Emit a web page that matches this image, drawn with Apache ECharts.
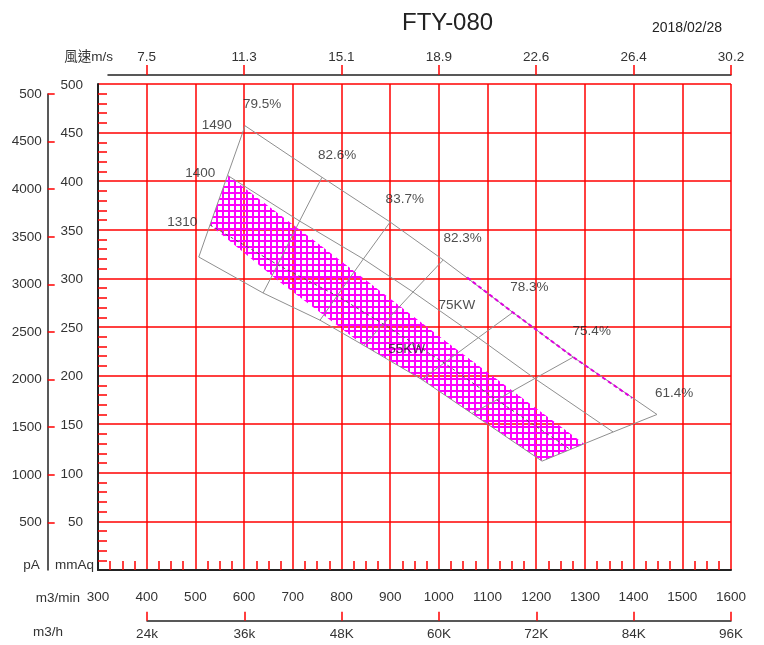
<!DOCTYPE html>
<html><head><meta charset="utf-8">
<script src="https://cdn.jsdelivr.net/npm/echarts@6/dist/echarts.min.js"></script>
<style>html,body{margin:0;padding:0;background:#fff}#c{width:764px;height:645px}</style>
</head><body><div id="c"></div>
<script>
// ---- tick labels ----
const speedFlows = [400, 600, 800, 1000, 1200, 1400, 1600];
const speedLabels = ['7.5', '11.3', '15.1', '18.9', '22.6', '26.4', '30.2'];
const hourFlows = [400, 600, 800, 1000, 1200, 1400, 1600];
const hourLabels = ['24k', '36k', '48K', '60K', '72K', '84K', '96K'];
const paTicks = [500, 1000, 1500, 2000, 2500, 3000, 3500, 4000, 4500, 5000];
const paLabels = ['500', '1000', '1500', '2000', '2500', '3000', '3500', '4000', '4500', '500'];

// ---- fan curves (flow m3/min, pressure mmAq) ----
const curve1490Q = [602, 760, 900, 1009, 1152, 1276, 1448];
const curve1490P = [457, 404, 358, 319, 265, 219, 160];
const curve1400Q = [566, 714, 845, 947, 1081, 1197, 1358];
const curve1400P = [406, 359, 320, 286, 239, 197, 142];
const curve1310Q = [530, 669, 791, 886, 1011, 1119, 1270];
const curve1310P = [355, 314, 282, 253, 213, 175, 124];
const curveLowQ = [507, 639, 756, 846, 965, 1068, 1212];
const curveLowP = [322, 285, 257, 231, 196, 161, 112];

// ---- hatched operating band ----
const bandUpperQ = [566, 762, 1023, 1298];
const bandUpperP = [406, 332, 232, 130];
const bandLowerQ = [530, 674, 846, 965, 1068, 1212];
const bandLowerP = [355, 296, 231, 196, 161, 112];

// ---- magenta dashed segment ----
const dashQ = [1058, 1152, 1276, 1397];
const dashP = [301, 265, 219, 177];

// ---- annotations ----
const annoText = ['1490', '1400', '1310', '79.5%', '82.6%', '83.7%', '82.3%', '78.3%', '75.4%', '61.4%', '75KW', '55KW'];
const annoQ = [544, 510, 473, 637, 791, 930, 1049, 1186, 1314, 1483, 1037, 934];
const annoP = [458, 408, 358, 479, 427, 381, 341, 291, 246, 182, 272, 227];

const FONT = '"Liberation Sans", Arial, "Noto Sans CJK TC", sans-serif';
const RED = '#ff0000';
const GRAY = '#8f8f8f';

// hatch pattern
const pat = document.createElement('canvas');
pat.width = 6; pat.height = 6;
const pctx = pat.getContext('2d');
pctx.fillStyle = '#ff00ff';
pctx.fillRect(0, 0, 6, 2);
pctx.fillRect(0, 0, 2, 6);

function zip(q, p) { return q.map((v, i) => [v, p[i]]); }

const series = [];
series.push({
  type: 'custom', xAxisIndex: 0, yAxisIndex: 0, silent: true, z: 1,
  data: [[bandUpperQ[0], bandUpperP[0]]],
  renderItem: function (params, api) {
    const pts = [];
    for (let i = 0; i < bandUpperQ.length; i++) pts.push(api.coord([bandUpperQ[i], bandUpperP[i]]));
    for (let i = bandLowerQ.length - 1; i >= 0; i--) pts.push(api.coord([bandLowerQ[i], bandLowerP[i]]));
    return { type: 'polygon', shape: { points: pts }, style: { fill: { image: pat, repeat: 'repeat' }, stroke: null } };
  }
});
function lineSeries(data, color, type, width, z) {
  return { type: 'line', xAxisIndex: 0, yAxisIndex: 0, data: data, symbol: 'none', silent: true, z: z || 3,
    lineStyle: { color: color, width: width || 1, type: type || 'solid' } };
}
series.push(lineSeries(zip(curve1490Q, curve1490P), GRAY));
series.push(lineSeries(zip(curve1400Q, curve1400P), GRAY));
series.push(lineSeries(zip(curveLowQ, curveLowP), GRAY));
series.push(lineSeries(zip(curve1310Q, curve1310P), '#555', [3, 3], 1));
for (let i = 0; i < curve1490Q.length; i++) {
  series.push(lineSeries([[curve1490Q[i], curve1490P[i]], [curve1400Q[i], curve1400P[i]],
    [curve1310Q[i], curve1310P[i]], [curveLowQ[i], curveLowP[i]]], GRAY));
}
series.push(lineSeries(zip(dashQ, dashP), '#e000e0', [4, 3], 2, 4));
series.push({
  type: 'scatter', xAxisIndex: 0, yAxisIndex: 0, symbolSize: 1, silent: true, z: 5,
  itemStyle: { color: 'rgba(0,0,0,0)' },
  data: annoText.map((t, i) => ({ name: t, value: [annoQ[i], annoP[i]] })),
  label: { show: true, position: 'inside', formatter: '{b}', fontSize: 13.5, color: '#222', fontFamily: FONT }
});

const labelStyle = { fontSize: 13.5, color: '#333', fontFamily: FONT };

const option = {
  animation: false,
  backgroundColor: '#fff',
  title: [
    { text: 'FTY-080', left: 402, top: 11, padding: 0, textStyle: { fontSize: 24, fontWeight: 'normal', color: '#222', fontFamily: FONT } },
    { text: '2018/02/28', left: 652, top: 21, padding: 0, textStyle: { fontSize: 14, fontWeight: 'normal', color: '#222', fontFamily: FONT } }
  ],
  grid: [
    { left: 98, right: 33, top: 84, bottom: 75 },
    { left: 98, right: 33, top: 94, bottom: 75 },
    { left: 108, right: 33, top: 75, height: 1 },
    { left: 147, right: 33, top: 610, height: 10.7 }
  ],
  xAxis: [
    { gridIndex: 0, type: 'value', min: 300, max: 1600, interval: 100, position: 'bottom',
      axisLine: { show: true, onZero: false, lineStyle: { color: '#222', width: 2 } },
      axisTick: { show: false, inside: true },
      minorTick: { show: true, splitNumber: 4, length: 9, lineStyle: { color: RED, width: 1.5 } },
      splitLine: { show: true, lineStyle: { color: RED, width: 1.5 } },
      axisLabel: Object.assign({ margin: 21, showMinLabel: true, showMaxLabel: true, formatter: v => String(v) }, labelStyle),
      name: 'm3/min', nameLocation: 'start', nameGap: 18, nameMoveOverlap: false,
      nameTextStyle: Object.assign({ verticalAlign: 'top', lineHeight: 56 }, labelStyle) },
    { gridIndex: 2, type: 'value', min: 320.5, max: 1600, position: 'top',
      axisLine: { show: true, onZero: false, lineStyle: { color: '#222', width: 1.5 } },
      axisTick: { show: true, length: 10, customValues: speedFlows, lineStyle: { color: RED, width: 1.5 } },
      splitLine: { show: false },
      axisLabel: Object.assign({ margin: 11, customValues: speedFlows,
        formatter: v => { const k = speedFlows.indexOf(v); return k >= 0 ? speedLabels[k] : ''; } }, labelStyle),
      name: '風速m/s', nameLocation: 'start', nameGap: -5, nameMoveOverlap: false,
      nameTextStyle: Object.assign({ verticalAlign: 'bottom', lineHeight: 35 }, labelStyle) },
    { gridIndex: 3, type: 'value', min: 400, max: 1600, interval: 200, position: 'bottom',
      axisLine: { show: true, onZero: false, lineStyle: { color: '#222', width: 1.5 } },
      axisTick: { show: true, inside: true, length: 9, lineStyle: { color: RED, width: 1.5 } },
      splitLine: { show: false },
      axisLabel: Object.assign({ margin: 7, showMinLabel: true, showMaxLabel: true,
        formatter: v => { const k = hourFlows.indexOf(v); return k >= 0 ? hourLabels[k] : ''; } }, labelStyle),
      name: 'm3/h', nameLocation: 'start', nameGap: 84, nameMoveOverlap: false,
      nameTextStyle: Object.assign({ verticalAlign: 'top', lineHeight: 24 }, labelStyle) },
    { gridIndex: 1, type: 'value', show: false, min: 0, max: 1 }
  ],
  yAxis: [
    { gridIndex: 0, type: 'value', min: 0, max: 500, interval: 50, position: 'left',
      axisLine: { show: true, onZero: false, lineStyle: { color: '#222', width: 2 } },
      axisTick: { show: false, inside: true },
      minorTick: { show: true, splitNumber: 5, length: 9, lineStyle: { color: RED, width: 1.5 } },
      splitLine: { show: true, lineStyle: { color: RED, width: 1.5 } },
      axisLabel: Object.assign({ margin: 4, showMinLabel: true, showMaxLabel: true,
        formatter: v => v === 0 ? '{u|mmAq}' : '{n|' + v + '}',
        rich: { n: Object.assign({ padding: [2, 11, 0, 0] }, labelStyle), u: Object.assign({ padding: [0, 0, 10, 0] }, labelStyle) } }, labelStyle) },
    { gridIndex: 1, type: 'value', min: 0, max: 5000, interval: 500, position: 'left', offset: 50.3,
      axisLine: { show: true, onZero: false, lineStyle: { color: '#222', width: 1.5 } },
      axisTick: { show: true, inside: true, length: 7, customValues: paTicks, lineStyle: { color: RED, width: 1.5 } },
      splitLine: { show: false },
      axisLabel: Object.assign({ margin: 6, showMinLabel: true, showMaxLabel: true,
        formatter: v => { if (v === 0) return '{u|pA}'; const k = paTicks.indexOf(v); return '{n|' + (k >= 0 ? paLabels[k] : '') + '}'; },
        rich: { n: Object.assign({}, labelStyle), u: Object.assign({ padding: [0, 2, 10, 0] }, labelStyle) } }, labelStyle) },
    { gridIndex: 2, type: 'value', show: false, min: 0, max: 1 },
    { gridIndex: 3, type: 'value', show: false, min: 0, max: 1 }
  ],
  series: series
};
const chart = echarts.init(document.getElementById('c'), null, { renderer: 'canvas' });
chart.setOption(option);
</script>
</body></html>
